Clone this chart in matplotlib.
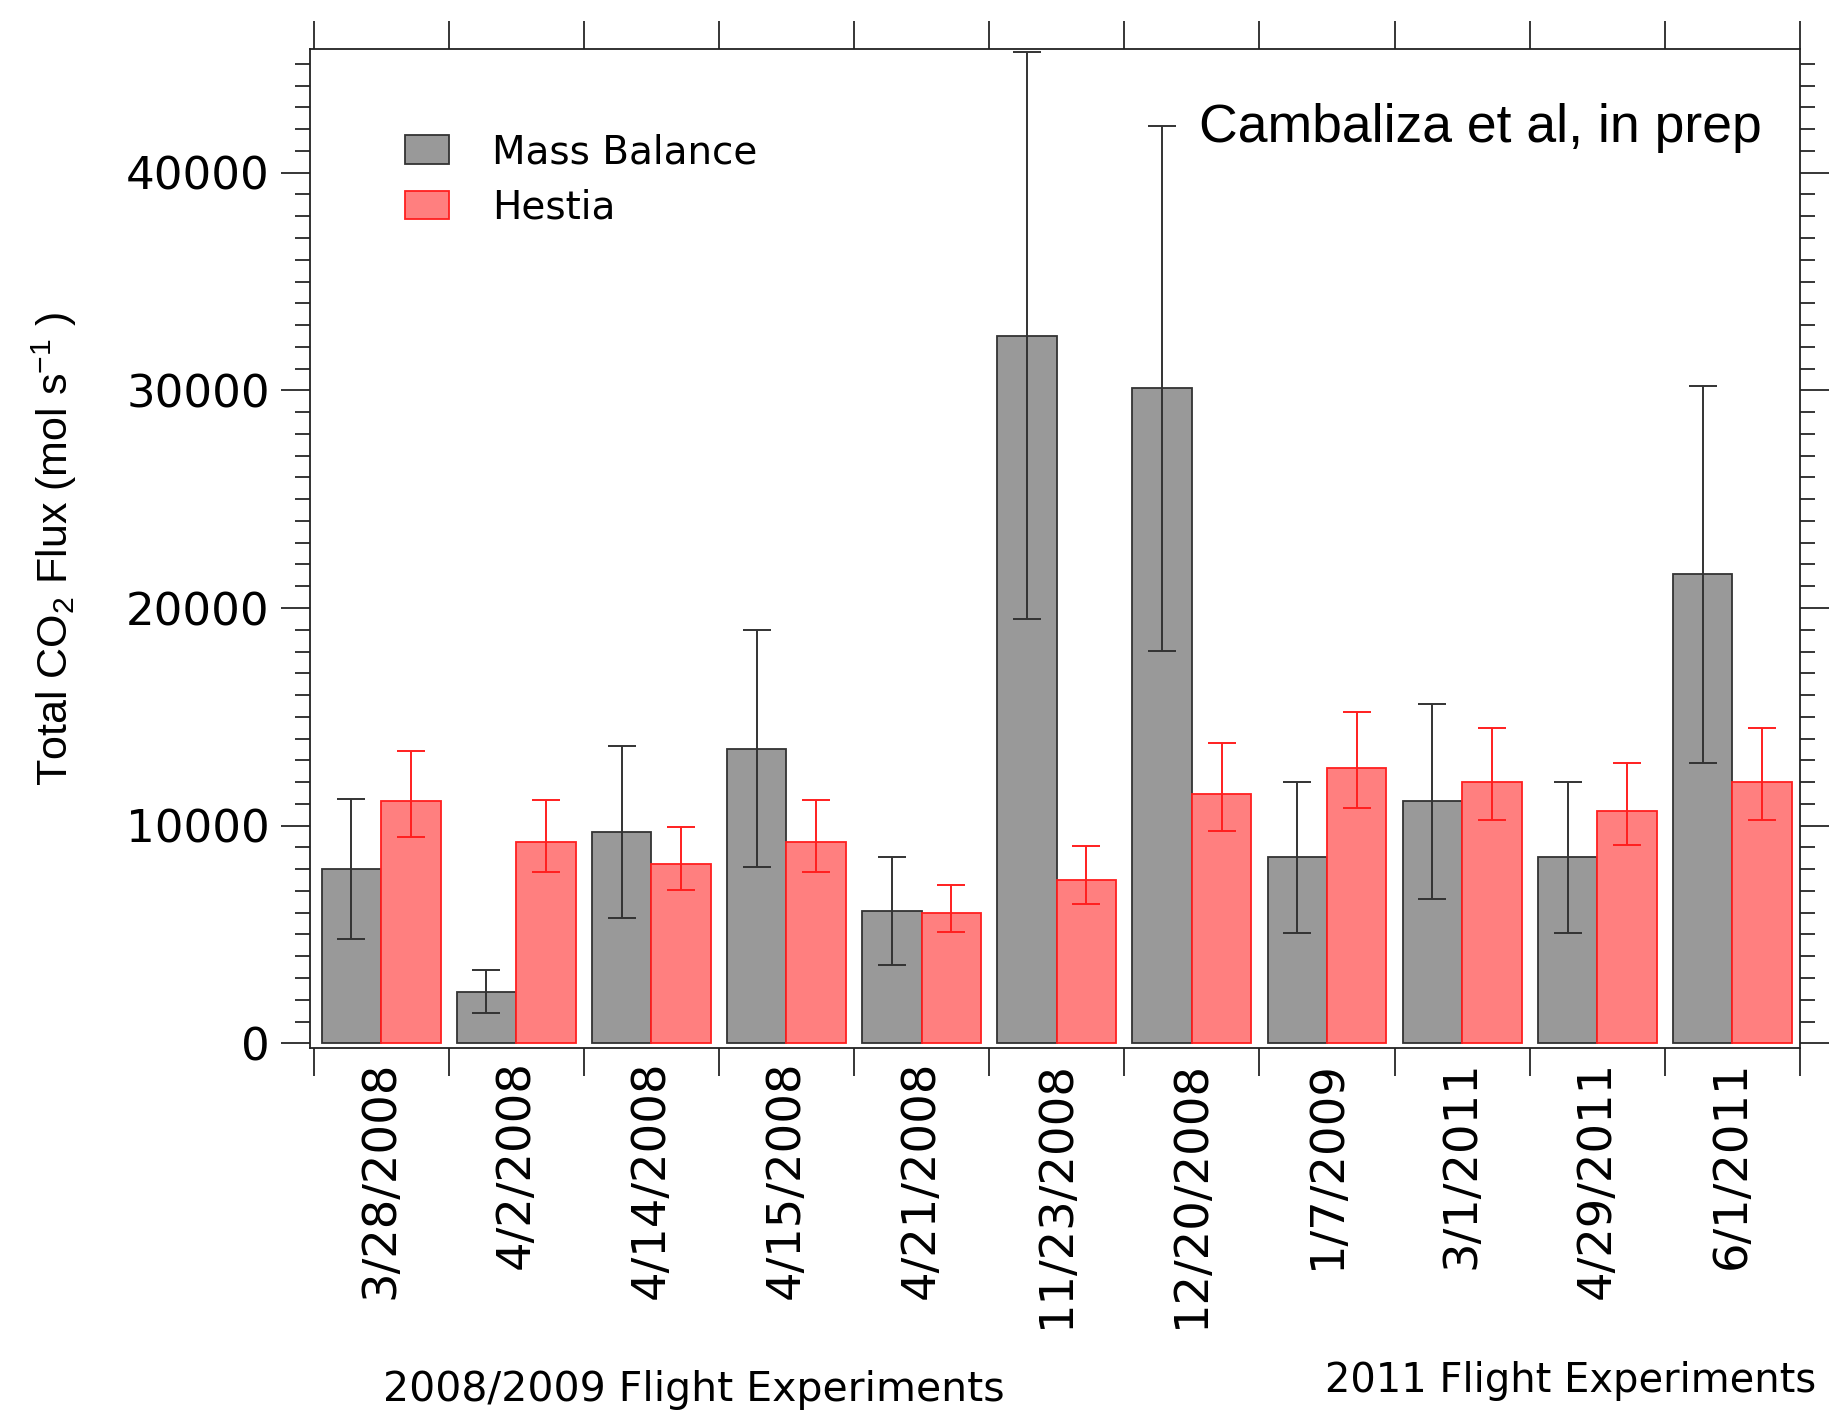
import matplotlib
matplotlib.use("Agg")
import matplotlib.pyplot as plt
import numpy as np
from matplotlib.ticker import MultipleLocator

# Total CO2 flux per flight: aircraft mass balance vs Hestia inventory
flight_dates = ['3/28/2008', '4/2/2008', '4/14/2008', '4/15/2008', '4/21/2008',
                '11/23/2008', '12/20/2008', '1/7/2009', '3/1/2011', '4/29/2011', '6/1/2011']
mass_balance = [8000, 2370, 9710, 13530, 6080, 32520, 30090, 8550, 11110, 8550, 21540]
mass_balance_err = [3230, 990, 3930, 5440, 2490, 13030, 12060, 3470, 4480, 3470, 8650]
hestia = [11120, 9240, 8230, 9230, 5990, 7500, 11440, 12650, 12010, 10660, 12010]
hestia_err_low = [1620, 1350, 1200, 1350, 875, 1100, 1670, 1850, 1750, 1560, 1750]
hestia_err_high = [2300, 1940, 1730, 1930, 1270, 1570, 2360, 2590, 2480, 2210, 2480]
y_major = [0, 10000, 20000, 30000, 40000]

plt.rcParams['mathtext.fontset'] = 'custom'
plt.rcParams['mathtext.rm'] = 'Liberation Sans'
plt.rcParams['mathtext.default'] = 'regular'

W, H = 1832, 1410
fig = plt.figure(figsize=(W / 100, H / 100), dpi=100)
ax = fig.add_axes([310 / W, 1 - 1048 / H, (1800 - 310) / W, (1048 - 49) / H])

x = np.arange(len(flight_dates))
bw = 0.44
gray_edge = '#333333'
red_edge = '#ff1f1f'

ax.bar(x - bw / 2, mass_balance, width=bw, color='#999999', edgecolor=gray_edge,
       linewidth=1.3, label='Mass Balance', zorder=2)
ax.bar(x + bw / 2, hestia, width=bw, color='#ff7f7f', edgecolor=red_edge,
       linewidth=1.3, label='Hestia', zorder=2)
ax.errorbar(x - bw / 2, mass_balance, yerr=mass_balance_err, fmt='none', ecolor=gray_edge,
            elinewidth=1.4, capsize=10, capthick=1.4, zorder=3)
ax.errorbar(x + bw / 2, hestia, yerr=[hestia_err_low, hestia_err_high], fmt='none',
            ecolor=red_edge, elinewidth=1.4, capsize=10, capthick=1.4, zorder=3)

ax.set_xlim(-0.526, len(flight_dates) - 0.5)
ax.set_ylim(-216, 45685)

# category boundaries get the tick marks, dates sit between them
ax.set_xticks(np.arange(-0.5, len(flight_dates), 1))
ax.set_xticklabels([])
ax.set_xticks(x, minor=True)
ax.set_xticklabels(flight_dates, minor=True, rotation=90, fontsize=33.5)
ax.tick_params(axis='x', which='major', direction='out', length=20, width=1.1,
               top=True, bottom=True)
ax.tick_params(axis='x', which='minor', length=0, pad=9, top=False)

ax.set_yticks(y_major)
ax.set_yticklabels([str(v) for v in y_major], fontsize=32.5)
ax.yaxis.set_minor_locator(MultipleLocator(1000))
ax.tick_params(axis='y', which='major', direction='out', length=21, width=1.1,
               left=True, right=True, pad=8)
ax.tick_params(axis='y', which='minor', direction='out', length=11, width=1.1,
               left=True, right=True)

for sp in ax.spines.values():
    sp.set_linewidth(1.3)
    sp.set_color('#222222')

ax.legend(loc='upper left', bbox_to_anchor=(405 / W, 1 - 133 / H), bbox_transform=fig.transFigure,
          frameon=False, fontsize=28, handlelength=1.13, handleheight=0.75,
          handletextpad=1.1, labelspacing=0.45, borderpad=0, borderaxespad=0)

fig.text(1762 / W, 1 - 141.6 / H, 'Cambaliza et al, in prep', ha='right', va='baseline',
         family='Liberation Sans', fontsize=38.5)

fig.text(54 / W, 1 - 549 / H, r'Total CO$_2$ Flux (mol s$^{-1}$ )', rotation=90,
         ha='center', va='center', family='Liberation Sans', fontsize=31)

fig.text(383 / W, 1 - 1390 / H, '2008/2009 Flight Experiments', ha='left', va='center', fontsize=29.5)
fig.text(1325 / W, 1 - 1381 / H, '2011 Flight Experiments', ha='left', va='center', fontsize=28.8)

fig.savefig('out.png', dpi=100, facecolor='white')
